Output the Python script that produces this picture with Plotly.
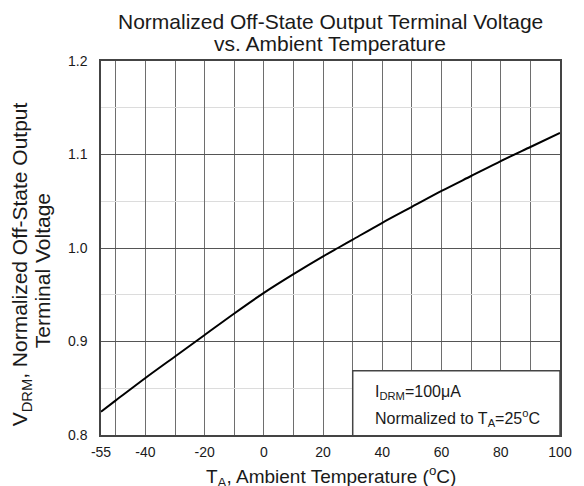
import plotly.graph_objects as go

temps = [-55, -50, -40, -30, -20, -10, 0, 10, 20, 25, 30, 40, 50, 60, 70, 80, 90, 100]
vdrm = [0.825, 0.837, 0.861, 0.884, 0.907, 0.930, 0.952, 0.972, 0.991, 1.000, 1.009, 1.027,
        1.044, 1.061, 1.077, 1.093, 1.108, 1.123]
x_ticks = [-55, -40, -20, 0, 20, 40, 60, 80, 100]
y_ticks = [0.8, 0.9, 1.0, 1.1, 1.2]
y_labels = ["0.8", "0.9", "1.0", "1.1", "1.2"]

FONT = "Liberation Sans, Arial, sans-serif"
TXT = "#1a1a1a"
GRID = "#6e6e6e"

fig = go.Figure()
fig.add_trace(go.Scatter(x=temps, y=vdrm, mode="lines",
                         line=dict(color="black", width=2, shape="spline", smoothing=0.8),
                         showlegend=False, hoverinfo="skip"))

fig.update_layout(
    width=584, height=486,
    margin=dict(l=101, r=22, t=61, b=51),
    paper_bgcolor="white", plot_bgcolor="white",
    font=dict(family=FONT, color=TXT, size=14),
    xaxis=dict(range=[-55, 100], tickvals=x_ticks, ticktext=[str(v) for v in x_ticks],
               showgrid=True, gridcolor=GRID, gridwidth=1,
               minor=dict(tick0=0, dtick=10, showgrid=True, gridcolor=GRID, gridwidth=1),
               showline=True, linecolor="#444", linewidth=1.5, mirror=True,
               ticks="outside", ticklen=3, tickcolor="rgba(0,0,0,0)",
               zeroline=False, tickfont=dict(size=14, color=TXT)),
    yaxis=dict(range=[0.8, 1.2], tickvals=y_ticks, ticktext=y_labels,
               showgrid=True, gridcolor="#555", gridwidth=1,
               minor=dict(tick0=0.8, dtick=0.05, showgrid=True, gridcolor="#dcdcdc", gridwidth=1),
               showline=True, linecolor="#444", linewidth=1.5, mirror=True,
               ticks="outside", ticklen=9, tickcolor="rgba(0,0,0,0)",
               zeroline=False, tickfont=dict(size=14, color=TXT)),
)


def py(px):
    """paper y from pixel y"""
    return (435.3 - px) / 374.6


def pxx(px):
    return (px - 101) / 461


# Title (two lines)
fig.add_annotation(xref="paper", yref="paper", x=pxx(331), y=py(21), xanchor="center", yanchor="middle",
                   text="Normalized Off-State Output Terminal Voltage", showarrow=False,
                   font=dict(family=FONT, size=21, color=TXT))
fig.add_annotation(xref="paper", yref="paper", x=pxx(331), y=py(43.5), xanchor="center", yanchor="middle",
                   text="vs. Ambient Temperature", showarrow=False,
                   font=dict(family=FONT, size=21, color=TXT))

# Info box
fig.add_shape(type="rect", xref="x", yref="y", x0=30, x1=100, y0=0.798, y1=0.8687,
              line=dict(color="#444", width=1.5), fillcolor="white", layer="above")
fig.add_annotation(xref="x", yref="y", x=37.0, y=0.8455, xanchor="left", yanchor="middle",
                   text="I<sub>DRM</sub>=100\u03bcA", showarrow=False,
                   font=dict(family=FONT, size=16, color=TXT))
fig.add_annotation(xref="x", yref="y", x=37.0, y=0.8185, xanchor="left", yanchor="middle",
                   text="Normalized to T<sub>A</sub>=25<sup>o</sup>C", showarrow=False,
                   font=dict(family=FONT, size=16, color=TXT))

# Axis titles
fig.add_annotation(xref="paper", yref="paper", x=pxx(332), y=py(477),
                   xanchor="center", yanchor="middle",
                   text="T<sub>A</sub>, Ambient Temperature (<sup>o</sup>C)", showarrow=False,
                   font=dict(family=FONT, size=19, color=TXT))
fig.add_annotation(xref="paper", yref="paper", x=pxx(21), y=py(264),
                   xanchor="center", yanchor="middle", textangle=-90,
                   text="V<sub>DRM</sub>, Normalized Off-State Output", showarrow=False,
                   font=dict(family=FONT, size=21, color=TXT))
fig.add_annotation(xref="paper", yref="paper", x=pxx(43), y=py(271),
                   xanchor="center", yanchor="middle", textangle=-90,
                   text="Terminal Voltage", showarrow=False,
                   font=dict(family=FONT, size=21, color=TXT))

fig.write_html("out.html", config={"displayModeBar": False},
               post_script="document.body.style.margin='0px';")
